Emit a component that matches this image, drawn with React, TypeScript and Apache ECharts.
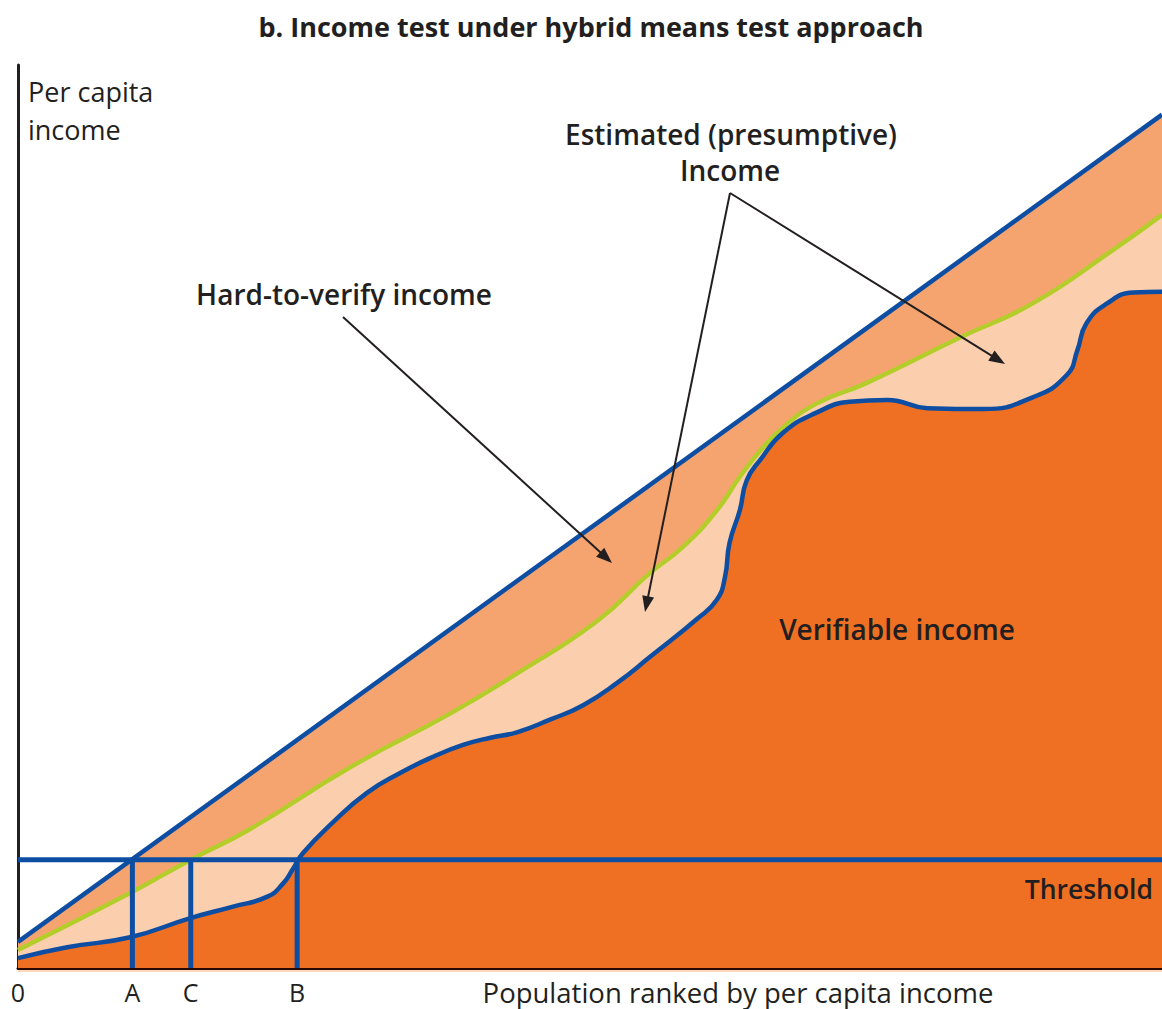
import React, { useEffect, useRef } from "react";
import * as echarts from "echarts";

// ---- Data (population rank 0-100, per capita income 0-100, conceptual units) ----
const totalIncome: [number, number][] = [
  [0, 2.9],
  [100, 94.5],
];

const estimatedIncome: [number, number][] = [
  [0, 2.0], [9.8, 8.3], [15.1, 12.0], [20.3, 15.4], [29.0, 22.2], [37.8, 28.2],
  [43.6, 32.6], [50.6, 38.4], [55.2, 43.7], [58.1, 46.6], [61.1, 50.7],
  [63.1, 54.4], [64.9, 57.3], [66.9, 59.9], [69.8, 62.5], [74.2, 64.8],
  [82.3, 69.8], [88.7, 73.6], [95.7, 79.5], [100, 83.4],
];

const verifiableIncome: [number, number][] = [
  [0, 1.1], [4.3, 2.3], [9.8, 3.4], [15.0, 5.5], [18.8, 6.8], [21.8, 7.9],
  [23.2, 9.4], [24.0, 10.9], [24.9, 12.7], [27.5, 16.1], [30.5, 19.4],
  [33.4, 21.6], [36.3, 23.4], [38.9, 24.7], [41.3, 25.5], [43.6, 26.1],
  [46.5, 27.5], [49.4, 29.1], [52.4, 31.6], [55.2, 34.4], [59.4, 38.7],
  [61.1, 40.8], [61.8, 43.3], [62.2, 47.1], [63.1, 50.7], [63.7, 54.0],
  [64.9, 56.3], [66.9, 59.3], [69.8, 61.5], [72.7, 62.7], [76.0, 62.9],
  [79.5, 62.0], [84.4, 61.9], [88.7, 63.2], [91.7, 65.7], [92.6, 68.4],
  [93.4, 71.4], [95.2, 73.6], [97.5, 74.8], [100, 74.9],
];

const thresholdValue = 12.0;
const tickLabels = ["0", "A", "C", "B"];
const tickValues = [0, 10.0, 15.1, 24.4];

const BLUE = "#0d4ea2";
const GREEN = "#b5cd2b";
const DARK = "#f07023";
const PEACH = "#fbcfae";
const MEDIUM = "#f5a46f";
const INK = "#231f20";
const FONT = "'Open Sans', 'Noto Sans', sans-serif";
const SMOOTH = 0.5;

function arrow(x1: number, y1: number, x2: number, y2: number) {
  const dx = x2 - x1;
  const dy = y2 - y1;
  const len = Math.sqrt(dx * dx + dy * dy);
  const ux = dx / len;
  const uy = dy / len;
  const hl = 16;
  const hw = 6;
  const bx = x2 - ux * hl;
  const by = y2 - uy * hl;
  return [
    {
      type: "line",
      shape: { x1, y1, x2: bx + ux * 2, y2: by + uy * 2 },
      style: { stroke: INK, lineWidth: 2 },
      z: 100,
    },
    {
      type: "polygon",
      shape: {
        points: [
          [x2, y2],
          [bx - uy * hw, by + ux * hw],
          [bx + uy * hw, by - ux * hw],
        ],
      },
      style: { fill: INK },
      z: 100,
    },
  ];
}

function txt(text: string, x: number, y: number, size: number, weight: any, align: string, fill = INK) {
  return {
    type: "text",
    x,
    y,
    z: 100,
    style: {
      text,
      fill,
      fontSize: size,
      fontWeight: weight,
      fontFamily: FONT,
      textAlign: align,
      textVerticalAlign: "middle",
    },
  };
}

export default function App() {
  const ref = useRef<HTMLDivElement>(null);
  useEffect(() => {
    if (!ref.current) return;
    const chart = echarts.init(ref.current, null, { renderer: "svg" });
    const areaSeries = (name: string, data: [number, number][], color: string, z: number) => ({
      name,
      type: "line",
      data,
      smooth: SMOOTH,
      showSymbol: false,
      symbol: "none",
      lineStyle: { width: 0, opacity: 0 },
      areaStyle: { color, opacity: 1 },
      z,
      silent: true,
    });
    const lineSeries = (name: string, data: [number, number][], color: string, z: number, width = 4.5) => ({
      name: name + " line",
      type: "line",
      data,
      smooth: SMOOTH,
      showSymbol: false,
      symbol: "none",
      lineStyle: { width, color },
      z,
      silent: true,
    });
    const refLine = (data: [number, number][]) => ({
      type: "line",
      data,
      showSymbol: false,
      symbol: "none",
      lineStyle: { width: 5, color: BLUE, cap: "butt" },
      z: 10,
      silent: true,
    });

    chart.setOption({
      animation: false,
      grid: { left: 18, right: 0, top: 65, bottom: 41 },
      xAxis: {
        type: "value",
        min: 0,
        max: 100,
        splitLine: { show: false },
        axisTick: { show: false },
        axisLine: { show: true, lineStyle: { color: "#2a0804", width: 3 } },
        axisLabel: {
          show: true,
          customValues: tickValues,
          formatter: (v: number) => {
            const i = tickValues.findIndex((t) => Math.abs(t - v) < 1e-6);
            return i >= 0 ? tickLabels[i] : "";
          },
          color: INK,
          fontSize: 25,
          fontFamily: FONT,
          margin: 11,
          showMinLabel: true,
          showMaxLabel: true,
          hideOverlap: false,
        },
      },
      yAxis: {
        type: "value",
        min: 0,
        max: 100,
        splitLine: { show: false },
        axisTick: { show: false },
        axisLabel: { show: false },
        axisLine: { show: true, lineStyle: { color: INK, width: 3 } },
      },
      series: [
        areaSeries("Hard-to-verify income", totalIncome, MEDIUM, 1),
        areaSeries("Estimated (presumptive) income", estimatedIncome, PEACH, 2),
        areaSeries("Verifiable income", verifiableIncome, DARK, 3),
        lineSeries("Total income", totalIncome, BLUE, 5),
        lineSeries("Estimated income", estimatedIncome, GREEN, 5),
        lineSeries("Verifiable income", verifiableIncome, BLUE, 6),
        refLine([[0, thresholdValue], [100, thresholdValue]]),
        refLine([[tickValues[1], 0], [tickValues[1], thresholdValue]]),
        refLine([[tickValues[2], 0], [tickValues[2], thresholdValue]]),
        refLine([[tickValues[3], 0], [tickValues[3], thresholdValue]]),
      ],
      graphic: [
        { type: "rect", shape: { x: 18, y: 970, width: 1144, height: 2 }, style: { fill: "#fcd8bc" }, z: 1 },
        txt("b. Income test under hybrid means test approach", 591, 26, 27, "bold", "center"),
        txt("Per capita", 28, 91, 27, "normal", "left"),
        txt("income", 28, 129, 27, "normal", "left"),
        txt("Estimated (presumptive)", 731, 134, 28, 600, "center"),
        txt("Income", 730, 170, 28, 600, "center"),
        txt("Hard-to-verify income", 344, 294, 28, 600, "center"),
        txt("Verifiable income", 897, 629, 28, 600, "center"),
        txt("Threshold", 1153, 889, 26.5, 600, "right"),
        txt("Population ranked by per capita income", 738, 992, 27.5, "normal", "center"),
        ...arrow(343, 317, 612, 563),
        ...arrow(730, 193, 645, 612),
        ...arrow(730, 193, 1005, 364),
      ],
    });
    return () => chart.dispose();
  }, []);
  return (
    <div
      ref={ref}
      style={{ position: "fixed", left: 0, top: 0, width: 1162, height: 1009, background: "#fff" }}
    />
  );
}
